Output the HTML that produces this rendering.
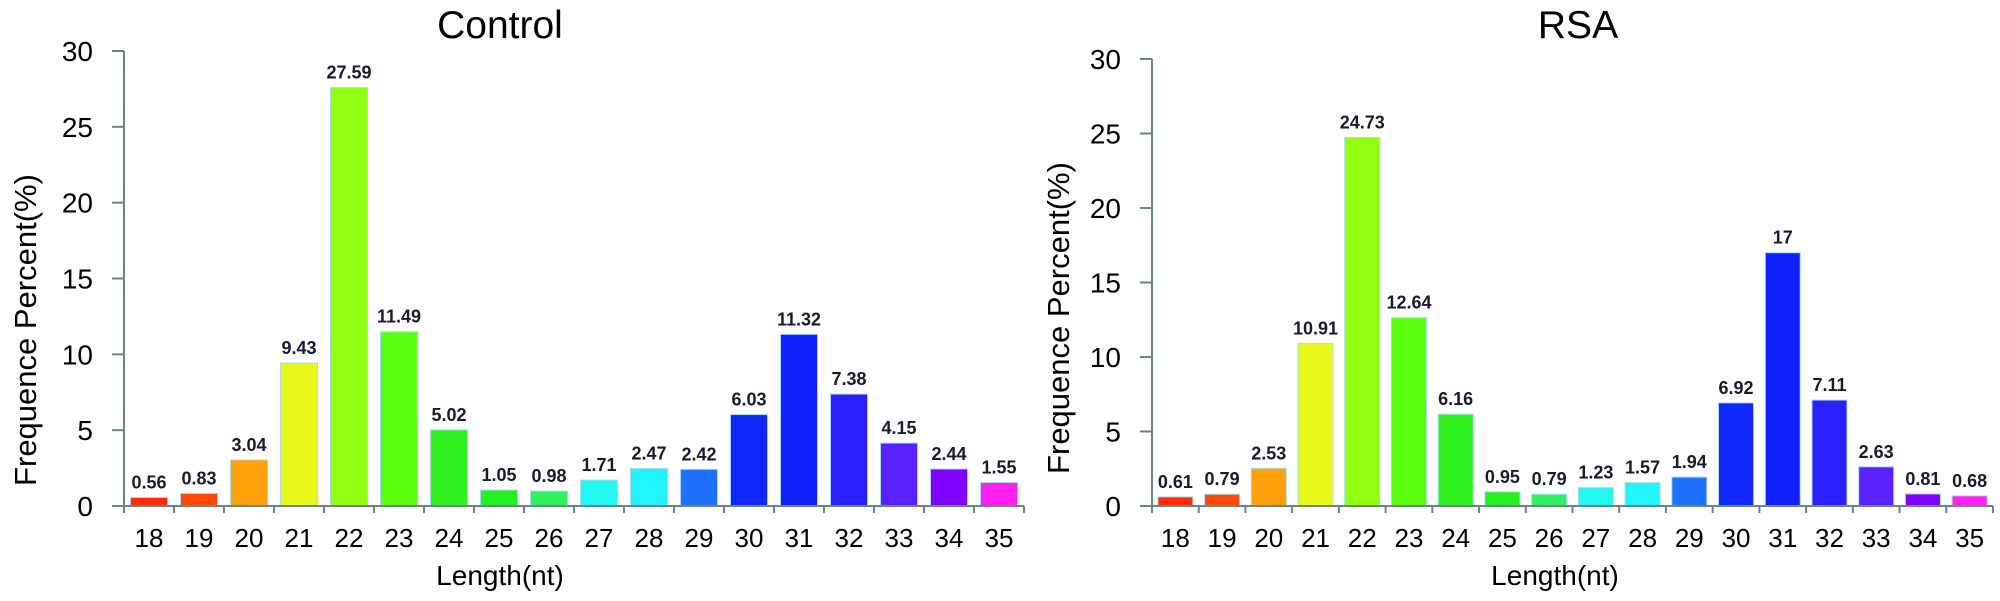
<!DOCTYPE html>
<html><head><meta charset="utf-8"><style>
html,body{margin:0;padding:0;background:#fff;}
svg{display:block;font-family:"Liberation Sans",sans-serif;}
</style></head><body>
<svg id="chart" width="2000" height="601" viewBox="0 0 2000 601" xmlns="http://www.w3.org/2000/svg"></svg>
<script>
const categories = ["18","19","20","21","22","23","24","25","26","27","28","29","30","31","32","33","34","35"];
const controlValues = [0.56,0.83,3.04,9.43,27.59,11.49,5.02,1.05,0.98,1.71,2.47,2.42,6.03,11.32,7.38,4.15,2.44,1.55];
const rsaValues = [0.61,0.79,2.53,10.91,24.73,12.64,6.16,0.95,0.79,1.23,1.57,1.94,6.92,17,7.11,2.63,0.81,0.68];
const controlLabels = ["0.56","0.83","3.04","9.43","27.59","11.49","5.02","1.05","0.98","1.71","2.47","2.42","6.03","11.32","7.38","4.15","2.44","1.55"];
const rsaLabels = ["0.61","0.79","2.53","10.91","24.73","12.64","6.16","0.95","0.79","1.23","1.57","1.94","6.92","17","7.11","2.63","0.81","0.68"];
const yTicks = [0,5,10,15,20,25,30];
const barColors = ["#ff2a0a","#ff480a","#ffa00a","#e8f81a","#90ff12","#5cff10","#30f020","#22f020","#30f060","#20f8f0","#20f4ff","#2070ff","#1028ff","#1020ff","#2a20ff","#5a20ff","#8000ff","#ff20f0"];

const NS="http://www.w3.org/2000/svg";
const svg=document.getElementById('chart');
function mk(tag,attrs,parent){const e=document.createElementNS(NS,tag);for(const k in attrs)e.setAttribute(k,attrs[k]);(parent||svg).appendChild(e);return e;}

function drawPanel(cfg){
  const g=mk('g',{});
  
  
  const step=(cfg.x1-cfg.x0)/categories.length;
  const xC=i=>cfg.x0+step*(i+0.5);
  const yS=v=>cfg.y0-(v/30)*(cfg.y0-cfg.yTop);
  const t=mk('text',{x:cfg.titleX,y:38,'font-size':39,'text-anchor':'middle',fill:'#000'},g);
  t.textContent=cfg.title;
  
  
  const yt=mk('text',{x:0,y:0,'font-size':31,'text-anchor':'middle',fill:'#000',transform:`translate(${cfg.yTitleX},${cfg.yTitleY}) rotate(-90)`},g);
  yt.textContent='Frequence Percent(%)';
  
  
  const xt=mk('text',{x:cfg.xTitleX,y:585,'font-size':28,'text-anchor':'middle',fill:'#000'},g);
  xt.textContent='Length(nt)';
  
  
  const vals=cfg.values;
  vals.forEach((v,i)=>{
    const y=yS(v);
    const b=mk('rect',{x:xC(i)-cfg.bw/2,y:y,width:cfg.bw,height:cfg.y0-y,fill:barColors[i],stroke:'#a8dcec','stroke-width':1},g);
    
    
    const l=mk('text',{x:xC(i),y:y-9,'font-size':18,'font-weight':'bold','text-anchor':'middle',fill:'#1a1a2e'},g);
    l.textContent=cfg.labels[i];
    
    
    const tl=mk('text',{x:xC(i),y:547,'font-size':26,'text-anchor':'middle',fill:'#000'},g);
    tl.textContent=categories[i];
    
    
  });
  const ya=mk('line',{x1:cfg.x0,y1:cfg.yTop,x2:cfg.x0,y2:cfg.y0+7,stroke:'#6a8585','stroke-width':2},g);
  
  
  const xa=mk('line',{x1:cfg.x0-12,y1:cfg.y0,x2:cfg.x1,y2:cfg.y0,stroke:'#6a8585','stroke-width':2},g);
  
  
  for(let i=1;i<=categories.length;i++){
    const x=cfg.x0+step*i;
    mk('line',{x1:x,y1:cfg.y0,x2:x,y2:cfg.y0+7,stroke:'#6a8585','stroke-width':2},g);
  }
  yTicks.forEach(v=>{
    const y=yS(v);
    mk('line',{x1:cfg.x0-12,y1:y,x2:cfg.x0,y2:y,stroke:'#6a8585','stroke-width':2},g);
    const tl=mk('text',{x:cfg.x0-31,y:y+10,'font-size':28,'text-anchor':'end',fill:'#000'},g);
    tl.textContent=String(v);
    
    
  });
}
drawPanel({name:'control',title:'Control',values:controlValues,labels:controlLabels,x0:124,x1:1024,y0:506,yTop:51,bw:37,titleX:500,yTitleX:36,yTitleY:330,xTitleX:500});
drawPanel({name:'rsa',title:'RSA',values:rsaValues,labels:rsaLabels,x0:1152,x1:1993,y0:506,yTop:59,bw:35,titleX:1578,yTitleX:1069,yTitleY:318,xTitleX:1555});
</script>
</body></html>
